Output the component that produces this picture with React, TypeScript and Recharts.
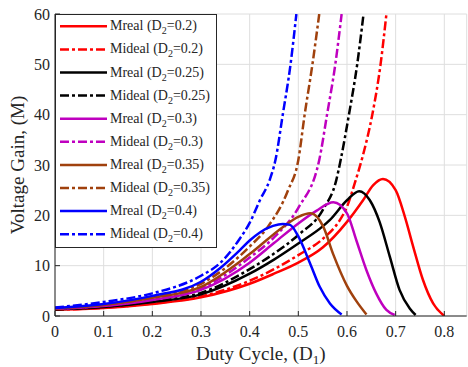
import React from "react";
import { LineChart, Line, XAxis, YAxis, CartesianGrid } from "recharts";

// duty cycle D1 samples and gain values, per D2 case
const dReal020 = [0, 0.1, 0.2, 0.3, 0.4, 0.45, 0.5, 0.55, 0.6, 0.633, 0.654, 0.674, 0.7, 0.719, 0.736, 0.756, 0.777, 0.8];
const mReal020 = [1.25, 1.6, 2.4, 3.7, 6.4, 8.4, 10.6, 13.6, 18.7, 23, 26, 27.2, 25, 19.7, 13.8, 7.2, 2.5, 0];
const dIdeal020 = [0, 0.1, 0.2, 0.3, 0.4, 0.45, 0.5, 0.55, 0.585, 0.6, 0.616, 0.633, 0.652, 0.669, 0.681];
const mIdeal020 = [1.25, 1.65, 2.5, 3.9, 7.0, 9.3, 12.1, 15.3, 19, 21.7, 26.4, 32, 40, 50, 60];

const dReal025 = [0, 0.1, 0.2, 0.3, 0.4, 0.45, 0.5, 0.55, 0.565, 0.6, 0.625, 0.647, 0.667, 0.688, 0.708, 0.729, 0.741];
const mReal025 = [1.33, 1.8, 2.8, 4.3, 8.4, 11.2, 14.4, 17.8, 19.1, 23, 24.8, 23, 18.7, 11.8, 5.2, 1.5, 0.2];
const dIdeal025 = [0, 0.1, 0.2, 0.3, 0.4, 0.45, 0.5, 0.551, 0.578, 0.587, 0.604, 0.621, 0.634];
const mIdeal025 = [1.33, 1.85, 2.9, 4.6, 9.3, 12.4, 16.1, 21.2, 27, 31, 40, 50, 60];

const dReal030 = [0, 0.1, 0.2, 0.3, 0.4, 0.45, 0.5, 0.537, 0.572, 0.6, 0.619, 0.64, 0.66, 0.681, 0.698];
const mReal030 = [1.43, 2.0, 3.2, 5.2, 10.6, 14.5, 18.4, 20.9, 22.6, 20.4, 15.1, 9.1, 4.5, 1.2, 0.2];
const dIdeal030 = [0, 0.1, 0.2, 0.3, 0.4, 0.452, 0.5, 0.543, 0.559, 0.576, 0.589];
const mIdeal030 = [1.43, 2.05, 3.3, 5.5, 11.6, 15.8, 21.5, 31, 40, 50, 60];

const dReal035 = [0, 0.1, 0.2, 0.3, 0.4, 0.47, 0.5, 0.525, 0.551, 0.572, 0.6, 0.619, 0.64];
const mReal035 = [1.54, 2.2, 3.6, 5.8, 12.3, 17.8, 19.7, 20.4, 17.8, 12.2, 6.0, 3.0, 0.3];
const dIdeal035 = [0, 0.1, 0.2, 0.3, 0.4, 0.438, 0.479, 0.5, 0.513, 0.529, 0.543];
const mIdeal035 = [1.54, 2.25, 3.7, 6.4, 13.8, 17.8, 25, 31, 40, 50, 60];

const dReal040 = [0, 0.1, 0.2, 0.3, 0.339, 0.38, 0.4, 0.421, 0.448, 0.468, 0.483, 0.5, 0.524, 0.544, 0.565, 0.589];
const mReal040 = [1.6, 2.4, 4.0, 6.8, 9.5, 13.1, 15, 16.6, 17.9, 18.3, 18.1, 15.8, 10.5, 5.8, 2.5, 0.3];
const dIdeal040 = [0, 0.1, 0.2, 0.3, 0.339, 0.38, 0.4, 0.421, 0.441, 0.453, 0.468, 0.484, 0.496];
const mIdeal040 = [1.67, 2.8, 4.5, 8.0, 10.5, 15.4, 18.5, 23, 27, 31, 40, 50, 60];

const xTicks = [0, 0.1, 0.2, 0.3, 0.4, 0.5, 0.6, 0.7, 0.8];
const yTicks = [0, 10, 20, 30, 40, 50, 60];

const toPoints = (d: number[], m: number[]) => d.map((x, i) => ({ d: x, m: m[i] }));

const RED = "#ff0000";
const BLACK = "#000000";
const MAGENTA = "#bf00bf";
const BROWN = "#a0410d";
const BLUE = "#0000ff";
const DASH_DOT = "9 3 3 3";

const series = [
  { name: "Mreal", d2: "0.2", color: RED, dash: undefined, data: toPoints(dReal020, mReal020) },
  { name: "Mideal", d2: "0.2", color: RED, dash: DASH_DOT, data: toPoints(dIdeal020, mIdeal020) },
  { name: "Mreal", d2: "0.25", color: BLACK, dash: undefined, data: toPoints(dReal025, mReal025) },
  { name: "Mideal", d2: "0.25", color: BLACK, dash: DASH_DOT, data: toPoints(dIdeal025, mIdeal025) },
  { name: "Mreal", d2: "0.3", color: MAGENTA, dash: undefined, data: toPoints(dReal030, mReal030) },
  { name: "Mideal", d2: "0.3", color: MAGENTA, dash: DASH_DOT, data: toPoints(dIdeal030, mIdeal030) },
  { name: "Mreal", d2: "0.35", color: BROWN, dash: undefined, data: toPoints(dReal035, mReal035) },
  { name: "Mideal", d2: "0.35", color: BROWN, dash: DASH_DOT, data: toPoints(dIdeal035, mIdeal035) },
  { name: "Mreal", d2: "0.4", color: BLUE, dash: undefined, data: toPoints(dReal040, mReal040) },
  { name: "Mideal", d2: "0.4", color: BLUE, dash: DASH_DOT, data: toPoints(dIdeal040, mIdeal040) },
];

const FONT = "'Liberation Serif', 'Times New Roman', serif";
const AXIS_COLOR = "#262626";
const X_MAX = 0.846;

function XTick({ x, y, payload }: any) {
  return (
    <text x={x} y={y} dy={15} textAnchor="middle" fontFamily={FONT} fontSize={16} fill={AXIS_COLOR}>
      {payload.value}
    </text>
  );
}

function YTick({ x, y, payload }: any) {
  return (
    <text x={x} y={y} dy={5.5} textAnchor="end" fontFamily={FONT} fontSize={16} fill={AXIS_COLOR}>
      {payload.value}
    </text>
  );
}

function XTitle({ viewBox }: any) {
  const cx = viewBox.x + viewBox.width / 2;
  return (
    <text x={cx} y={viewBox.y + 44} textAnchor="middle" fontFamily={FONT} fontSize={19} fill={AXIS_COLOR}>
      Duty Cycle, (D
      <tspan fontSize={13} dy={4}>1</tspan>
      <tspan dy={-4}>)</tspan>
    </text>
  );
}

function YTitle({ viewBox }: any) {
  const cy = viewBox.y + viewBox.height / 2;
  const x = 24;
  return (
    <text x={x} y={cy} transform={`rotate(-90, ${x}, ${cy})`} textAnchor="middle" fontFamily={FONT} fontSize={19} fill={AXIS_COLOR}>
      Voltage Gain, (M)
    </text>
  );
}

function LegendBox() {
  const rowH = 23.1;
  return (
    <svg width={163} height={235} style={{ position: "absolute", left: 55, top: 14 }}>
      <rect x={0.5} y={0.5} width={161} height={233} fill="#fff" stroke={AXIS_COLOR} strokeWidth={1} />
      {series.map((s, i) => {
        const cy = 12.3 + i * rowH;
        return (
          <g key={i}>
            <line x1={5} x2={52} y1={cy} y2={cy} stroke={s.color} strokeWidth={2.5} strokeDasharray={s.dash} />
            <text x={55} y={cy + 4} fontFamily={FONT} fontSize={14} fill={AXIS_COLOR}>
              {s.name} (D
              <tspan fontSize={10} dy={4}>2</tspan>
              <tspan dy={-4}>={s.d2})</tspan>
            </text>
          </g>
        );
      })}
    </svg>
  );
}

export default function App() {
  return (
    <div style={{ position: "absolute", left: 0, top: 0, width: 468, height: 367, background: "#fff" }}>
      <LineChart width={468} height={367} margin={{ top: 14, right: 1.3, bottom: 20, left: 15 }}>
        <CartesianGrid stroke="#dedede" strokeWidth={1} />
        <XAxis
          dataKey="d"
          type="number"
          domain={[0, X_MAX]}
          ticks={xTicks}
          allowDataOverflow
          height={31}
          tickSize={-5}
          tickMargin={11}
          tick={<XTick />}
          stroke={AXIS_COLOR}
          label={<XTitle />}
        />
        <XAxis
          xAxisId="top"
          orientation="top"
          type="number"
          domain={[0, X_MAX]}
          ticks={xTicks}
          allowDataOverflow
          height={0}
          tickSize={-5}
          tickFormatter={() => ""}
          stroke={AXIS_COLOR}
        />
        <YAxis
          type="number"
          domain={[0, 60]}
          ticks={yTicks}
          allowDataOverflow
          width={40}
          tickSize={-5}
          tickMargin={10}
          tick={<YTick />}
          stroke={AXIS_COLOR}
          label={<YTitle />}
        />
        <YAxis
          yAxisId="right"
          orientation="right"
          type="number"
          domain={[0, 60]}
          ticks={yTicks}
          allowDataOverflow
          width={0}
          tickSize={-5}
          tickFormatter={() => ""}
          stroke={AXIS_COLOR}
        />
        {series.map((s, i) => (
          <Line
            key={i}
            data={s.data}
            dataKey="m"
            type="monotone"
            stroke={s.color}
            strokeWidth={2.5}
            strokeDasharray={s.dash}
            dot={false}
            isAnimationActive={false}
          />
        ))}
      </LineChart>
      <LegendBox />
    </div>
  );
}
